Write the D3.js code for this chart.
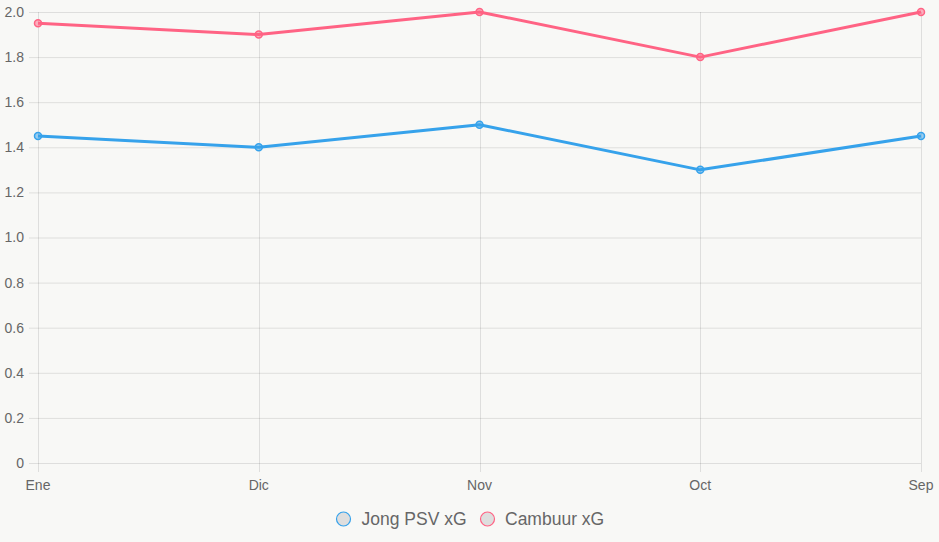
<!DOCTYPE html>
<html><head><meta charset="utf-8">
<script src="https://cdn.jsdelivr.net/npm/d3@7"></script>
<style>
html,body{margin:0;padding:0;background:#f8f8f6;}
svg{display:block;font-family:"Liberation Sans",Arial,Helvetica,sans-serif;}
</style></head>
<body><svg id="c" width="939" height="542"></svg>
<script>
const categories = ["Ene","Dic","Nov","Oct","Sep"];
const jongPSV = [1.45, 1.4, 1.5, 1.3, 1.45];
const cambuur = [1.95, 1.9, 2.0, 1.8, 2.0];
const yTicks = [0,0.2,0.4,0.6,0.8,1.0,1.2,1.4,1.6,1.8,2.0];
const seriesNames = ["Jong PSV xG","Cambuur xG"];
const seriesColors = ["#36a2eb","#ff6384"];

const svg = d3.select("#c");
const x = d3.scalePoint().domain(categories).range([38, 921]);
const y = d3.scaleLinear().domain([0, 2]).range([463, 12]);
const grid = "rgba(0,0,0,0.1)";
const textCol = "#666";

// horizontal grid
svg.append("g").selectAll("line").data(yTicks).join("line")
  .attr("x1", 29).attr("x2", 921)
  .attr("y1", d => y(d)+0.5).attr("y2", d => y(d)+0.5)
  .attr("stroke", grid).attr("stroke-width", 1);
// vertical grid
svg.append("g").selectAll("line").data(categories).join("line")
  .attr("x1", d => Math.round(x(d))+0.5).attr("x2", d => Math.round(x(d))+0.5)
  .attr("y1", 12).attr("y2", 472)
  .attr("stroke", grid).attr("stroke-width", 1);

// y labels
svg.append("g").selectAll("text").data(yTicks).join("text")
  .attr("x", 24).attr("y", d => y(d)).attr("dy", "0.35em")
  .attr("text-anchor", "end").attr("fill", textCol).attr("font-size", 14)
  .text(d => d === 0 ? "0" : d.toFixed(1));
// x labels
svg.append("g").selectAll("text").data(categories).join("text")
  .attr("x", d => x(d)).attr("y", 490)
  .attr("text-anchor", "middle").attr("fill", textCol).attr("font-size", 14)
  .text(d => d);

const line = d3.line().x((d,i) => x(categories[i])).y(d => y(d));
[jongPSV, cambuur].forEach((data, si) => {
  const col = seriesColors[si];
  svg.append("path").datum(data).attr("d", line)
    .attr("fill", "none").attr("stroke", col).attr("stroke-width", 3)
    .attr("stroke-linejoin", "round");
  svg.append("g").selectAll("circle").data(data).join("circle")
    .attr("cx", (d,i) => x(categories[i])).attr("cy", d => y(d)).attr("r", 3.5)
    .attr("fill", si === 0 ? "rgba(54,162,235,0.5)" : "rgba(255,99,132,0.5)")
    .attr("stroke", col).attr("stroke-width", 1.5);
});

// legend
const legend = [{name: seriesNames[0], col: seriesColors[0], cx: 343.5, tx: 361.5},
                {name: seriesNames[1], col: seriesColors[1], cx: 487.5, tx: 505}];
const lg = svg.append("g");
legend.forEach(l => {
  lg.append("circle").attr("cx", l.cx).attr("cy", 519).attr("r", 7)
    .attr("fill", "#dedede").attr("stroke", l.col).attr("stroke-width", 1.2);
  lg.append("text").attr("x", l.tx).attr("y", 519).attr("dy", "0.35em")
    .attr("fill", textCol).attr("font-size", 17.5).text(l.name);
});
</script></body></html>
